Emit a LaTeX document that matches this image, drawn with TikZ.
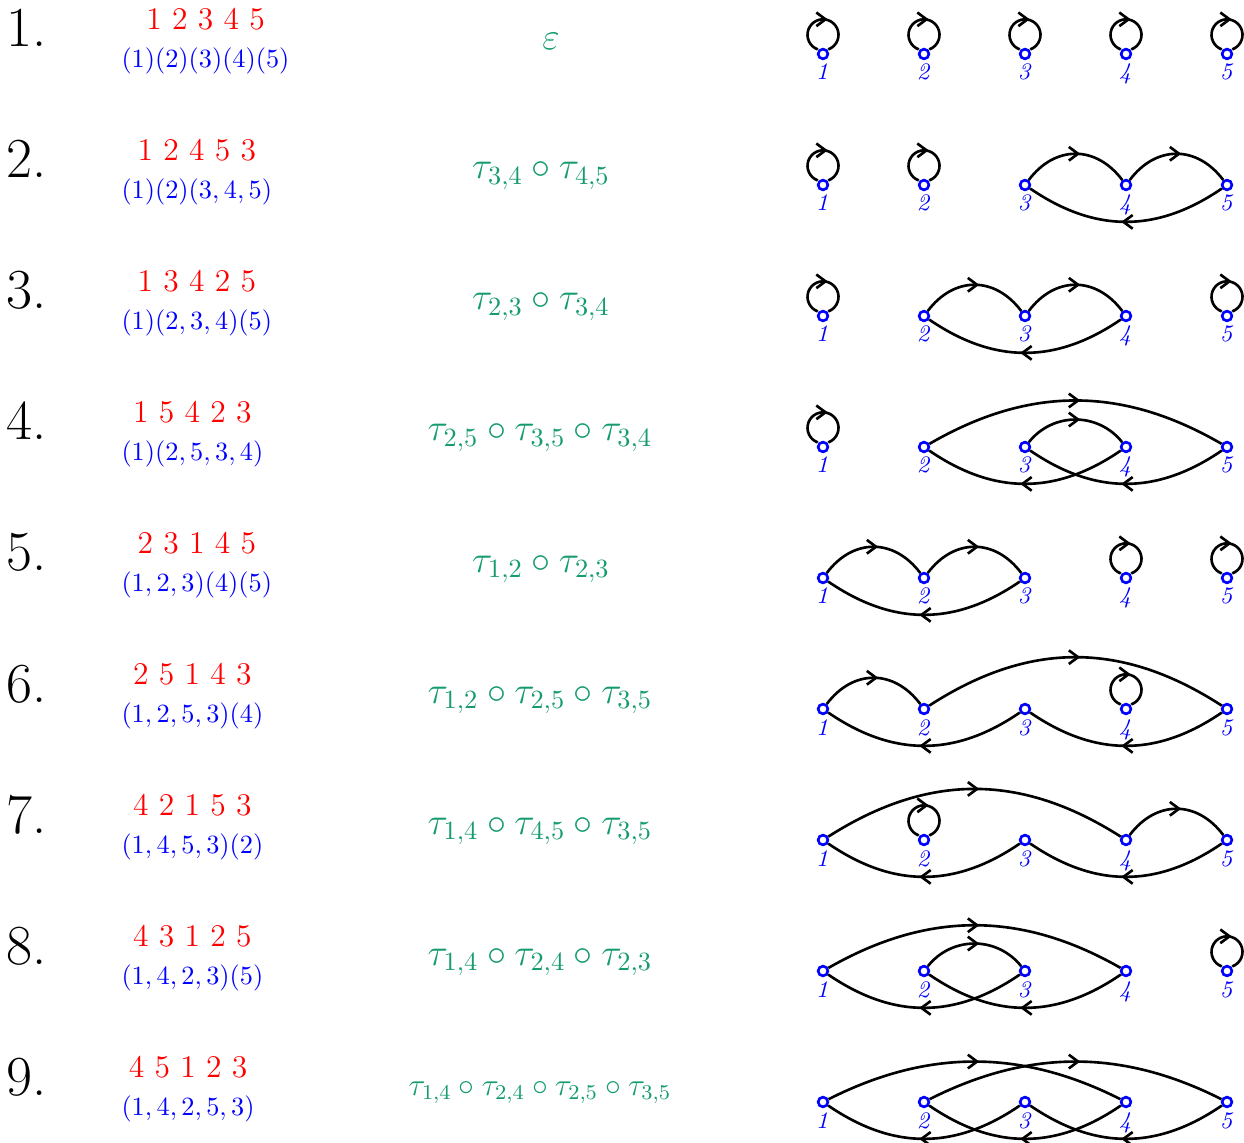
\documentclass[tikz,border=0pt]{standalone}
\usepackage{xcolor}
\usetikzlibrary{arrows.meta,decorations.markings}
\definecolor{tgreen}{RGB}{20,155,110}
\begin{document}
\begin{tikzpicture}[x=0.38pt,y=0.38pt,
  vtx/.style={circle,draw=blue,fill=white,line width=1pt,inner sep=0pt,minimum size=3.7pt},
  vlab/.style={text=blue,font=\small\itshape,inner sep=0pt,anchor=base},
  rownum/.style={anchor=base west,inner sep=0pt,font=\fontsize{21.5}{26}\selectfont},
  permtxt/.style={anchor=west,inner sep=0pt},
  transp/.style={anchor=base,inner sep=0pt,text=tgreen,font=\Large},
  arcline/.style={line width=1pt,postaction={decorate},
    decoration={markings,mark=at position 0.5 with {\arrow[xshift=1.8pt]{Straight Barb[length=3.5pt,width=5.2pt]}}}}
]
\useasboundingbox (0,0) rectangle (1244,-1143);

% vertices, labels, row numbers
\foreach \r in {1,...,9}{
  \pgfmathsetmacro{\Y}{-(54+131*(\r-1))}
  \pgfmathsetmacro{\Yn}{-(47+131*(\r-1))}
  \node[rownum] (num\r) at (6,\Yn) {\r.};
  \foreach \k in {1,...,5}{
    \pgfmathsetmacro{\X}{823+101*(\k-1)}
    \node[vtx] (n\r-\k) at (\X,\Y) {};
    \node[vlab] (l\r-\k) at (\X-1,\Y-26) {\k};
  }
}

% permutations (red) and cycles (blue)
\newcommand{\permrow}[3]{%
  \pgfmathsetmacro{\Yc}{-(42+131*(#1-1))}
  \node[permtxt] (p#1) at (121,\Yc) {\begin{tabular}{@{}c@{}}\large\color{red}#2\\[2.4pt]\color{blue}$#3$\end{tabular}};}
\permrow{1}{1 2 3 4 5}{(1)(2)(3)(4)(5)}
\permrow{2}{1 2 4 5 3}{(1)(2)(3,4,5)}
\permrow{3}{1 3 4 2 5}{(1)(2,3,4)(5)}
\permrow{4}{1 5 4 2 3}{(1)(2,5,3,4)}
\permrow{5}{2 3 1 4 5}{(1,2,3)(4)(5)}
\permrow{6}{2 5 1 4 3}{(1,2,5,3)(4)}
\permrow{7}{4 2 1 5 3}{(1,4,5,3)(2)}
\permrow{8}{4 3 1 2 5}{(1,4,2,3)(5)}
\permrow{9}{4 5 1 2 3}{(1,4,2,5,3)}

% transposition products (green)
\node[transp] (t1) at (551,-50) {$\varepsilon$};
\node[transp] (t2) at (541,-179) {$\tau_{3,4}\circ\tau_{4,5}$};
\node[transp] (t3) at (541,-310) {$\tau_{2,3}\circ\tau_{3,4}$};
\node[transp] (t4) at (540,-441) {$\tau_{2,5}\circ\tau_{3,5}\circ\tau_{3,4}$};
\node[transp] (t5) at (541,-572) {$\tau_{1,2}\circ\tau_{2,3}$};
\node[transp] (t6) at (540,-703) {$\tau_{1,2}\circ\tau_{2,5}\circ\tau_{3,5}$};
\node[transp] (t7) at (540,-834) {$\tau_{1,4}\circ\tau_{4,5}\circ\tau_{3,5}$};
\node[transp] (t8) at (540,-965) {$\tau_{1,4}\circ\tau_{2,4}\circ\tau_{2,3}$};
\node[transp,font=\large] (t9) at (540,-1095) {$\tau_{1,4}\circ\tau_{2,4}\circ\tau_{2,5}\circ\tau_{3,5}$};

% loops (fixed points)
\foreach \n in {1-1,1-2,1-3,1-4,1-5,2-1,2-2,3-1,3-5,4-1,5-4,5-5,6-4,7-2,8-5}{
  \draw[arcline] ([shift={(-5.3,4.6)}]n\n.center) arc[start angle=-110,end angle=-430,radius=15.5];
}

% row 2
\draw[arcline] (n2-3) .. controls +(30,40) and +(-30,40) .. (n2-4);
\draw[arcline] (n2-4) .. controls +(30,40) and +(-30,40) .. (n2-5);
\draw[arcline] (n2-5) .. controls +(-70,-48) and +(70,-48) .. (n2-3);
% row 3
\draw[arcline] (n3-2) .. controls +(30,40) and +(-30,40) .. (n3-3);
\draw[arcline] (n3-3) .. controls +(30,40) and +(-30,40) .. (n3-4);
\draw[arcline] (n3-4) .. controls +(-70,-48) and +(70,-48) .. (n3-2);
% row 4
\draw[arcline] (n4-2) .. controls +(105,61) and +(-105,61) .. (n4-5);
\draw[arcline] (n4-3) .. controls +(28,35) and +(-28,35) .. (n4-4);
\draw[arcline] (n4-5) .. controls +(-70,-48) and +(70,-48) .. (n4-3);
\draw[arcline] (n4-4) .. controls +(-70,-48) and +(70,-48) .. (n4-2);
% row 5
\draw[arcline] (n5-1) .. controls +(30,40) and +(-30,40) .. (n5-2);
\draw[arcline] (n5-2) .. controls +(30,40) and +(-30,40) .. (n5-3);
\draw[arcline] (n5-3) .. controls +(-70,-48) and +(70,-48) .. (n5-1);
% row 6
\draw[arcline] (n6-1) .. controls +(30,40) and +(-30,40) .. (n6-2);
\draw[arcline] (n6-2) .. controls +(105,68) and +(-105,68) .. (n6-5);
\draw[arcline] (n6-3) .. controls +(-70,-48) and +(70,-48) .. (n6-1);
\draw[arcline] (n6-5) .. controls +(-70,-48) and +(70,-48) .. (n6-3);
% row 7
\draw[arcline] (n7-1) .. controls +(105,67) and +(-105,67) .. (n7-4);
\draw[arcline] (n7-4) .. controls +(30,40) and +(-30,40) .. (n7-5);
\draw[arcline] (n7-3) .. controls +(-70,-48) and +(70,-48) .. (n7-1);
\draw[arcline] (n7-5) .. controls +(-70,-48) and +(70,-48) .. (n7-3);
% row 8
\draw[arcline] (n8-1) .. controls +(105,60) and +(-105,60) .. (n8-4);
\draw[arcline] (n8-2) .. controls +(28,35) and +(-28,35) .. (n8-3);
\draw[arcline] (n8-3) .. controls +(-70,-48) and +(70,-48) .. (n8-1);
\draw[arcline] (n8-4) .. controls +(-70,-48) and +(70,-48) .. (n8-2);
% row 9
\draw[arcline] (n9-1) .. controls +(105,53) and +(-105,53) .. (n9-4);
\draw[arcline] (n9-2) .. controls +(105,53) and +(-105,53) .. (n9-5);
\draw[arcline] (n9-3) .. controls +(-70,-48) and +(70,-48) .. (n9-1);
\draw[arcline] (n9-4) .. controls +(-70,-48) and +(70,-48) .. (n9-2);
\draw[arcline] (n9-5) .. controls +(-70,-48) and +(70,-48) .. (n9-3);
\end{tikzpicture}
\end{document}
